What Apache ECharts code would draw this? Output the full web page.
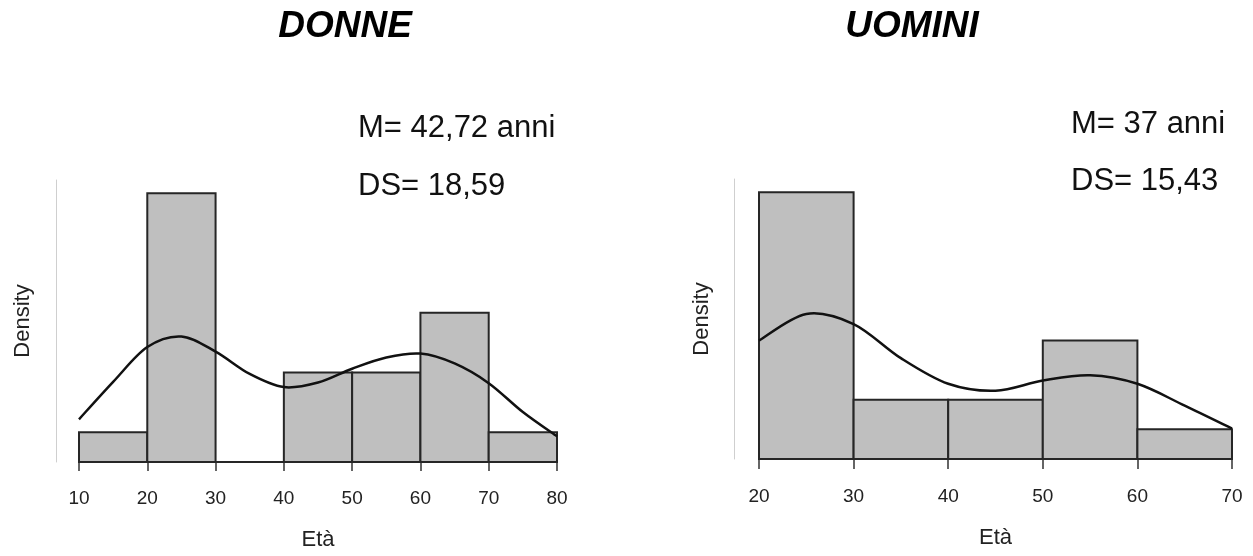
<!DOCTYPE html>
<title>eta</title>
<style>
body {
    margin: 0;
}
#echart {
    height: 556px;
    width: 1253px;
}
</style>
<div id='echart'></div>
<script src='https://cdn.jsdelivr.net/npm/echarts@6.0.0/dist/echarts.min.js'></script>
<script>
// histogram bins (years) and counts
let donne_bins = [[10, 20], [20, 30], [30, 40], [40, 50], [50, 60], [60, 70], [70, 80]]
let donne_counts = [1, 9, 0, 3, 3, 5, 1]
let uomini_bins = [[20, 30], [30, 40], [40, 50], [50, 60], [60, 70]]
let uomini_counts = [9, 2, 2, 4, 1]
// density curves, [eta, density]
let donne_curve = [[10, 0.0065], [15, 0.0122], [20, 0.0175], [25, 0.0191], [30, 0.0168], [35, 0.0134], [40, 0.0114],
    [45, 0.0121], [50, 0.0142], [55, 0.0159], [60, 0.0165], [65, 0.0150], [70, 0.0120], [75, 0.0076], [80, 0.0039]]
let uomini_curve = [[20, 0.0222], [25, 0.0272], [30, 0.0253], [35, 0.0189], [40, 0.0141], [45, 0.0128], [50, 0.0147],
    [55, 0.0157], [60, 0.0141], [65, 0.0100], [70, 0.0057]]
let titles = ['DONNE', 'UOMINI']
let stats = [['M= 42,72 anni', 'DS= 18,59'], ['M= 37 anni', 'DS= 15,43']]

let FONT = '"Liberation Sans", Arial, sans-serif'
let echart = echarts.init(document.querySelector('#echart'))

function density(bins, counts) {
    let n = counts.reduce((a, b) => a + b, 0)
    return bins.map((b, i) => [b[0], b[1], counts[i] / (n * (b[1] - b[0]))])
}

function render_bar(params, api) {
    let p0 = api.coord([api.value(0), 0])
    let p1 = api.coord([api.value(1), api.value(2)])
    return {
        type: 'rect',
        shape: {x: p0[0], y: p1[1], width: p1[0] - p0[0], height: p0[1] - p1[1]},
        style: {fill: '#bfbfbf', stroke: '#262626', lineWidth: 2},
    }
}

// catmull-rom curve through the read points, drawn once as a path
function render_curve(points) {
    return function (params, api) {
        if (params.dataIndex !== 0) return null
        let p = points.map(d => api.coord(d))
        let d = `M${p[0][0]},${p[0][1]}`
        for (let i = 0; i < p.length - 1; i++) {
            let a = p[Math.max(i - 1, 0)], b = p[i], c = p[i + 1], e = p[Math.min(i + 2, p.length - 1)]
            let c1 = [b[0] + (c[0] - a[0]) / 6, b[1] + (c[1] - a[1]) / 6]
            let c2 = [c[0] - (e[0] - b[0]) / 6, c[1] - (e[1] - b[1]) / 6]
            d += ` C${c1[0]},${c1[1]} ${c2[0]},${c2[1]} ${c[0]},${c[1]}`
        }
        return {type: 'path', shape: {pathData: d}, style: {fill: 'none', stroke: '#111', lineWidth: 2.5}}
    }
}

let x_axis = {
    type: 'value', interval: 10,
    name: 'Età', nameLocation: 'middle',
    nameTextStyle: {fontFamily: FONT, fontSize: 22, color: '#222'},
    axisLine: {show: true, lineStyle: {color: '#c4c4c4', width: 1}},
    axisTick: {show: true, lineStyle: {color: '#333', width: 1.5}},
    axisLabel: {fontFamily: FONT, fontSize: 19, color: '#222'},
    splitLine: {show: false},
}
let y_axis = {
    type: 'value', min: 0,
    name: 'Density', nameLocation: 'middle', nameGap: 22, nameRotate: 90,
    nameTextStyle: {fontFamily: FONT, fontSize: 22, color: '#222'},
    axisLine: {show: true, lineStyle: {color: '#cfcfcf', width: 1}},
    axisTick: {show: false}, axisLabel: {show: false}, splitLine: {show: false},
}

let option = {
    animation: false,
    grid: [
        {left: 79, width: 478, top: 180, height: 282},
        {left: 759, width: 473, top: 179, height: 280},
    ],
    xAxis: [
        {...x_axis, gridIndex: 0, min: 10, max: 80, offset: 15, nameGap: 52,
            axisTick: {...x_axis.axisTick, length: 9}, axisLabel: {...x_axis.axisLabel, margin: 12}},
        {...x_axis, gridIndex: 1, min: 20, max: 70, offset: 13, nameGap: 55,
            axisTick: {...x_axis.axisTick, length: 10}, axisLabel: {...x_axis.axisLabel, margin: 15}},
    ],
    yAxis: [
        {...y_axis, gridIndex: 0, max: 0.04293, offset: 23},
        {...y_axis, gridIndex: 1, max: 0.05249, offset: 24.5},
    ],
    series: [
        {type: 'custom', xAxisIndex: 0, yAxisIndex: 0, renderItem: render_bar, encode: {x: [0, 1], y: 2},
            data: density(donne_bins, donne_counts)},
        {type: 'custom', xAxisIndex: 0, yAxisIndex: 0, renderItem: render_curve(donne_curve), encode: {x: 0, y: 1},
            data: donne_curve, silent: true, z: 5},
        {type: 'custom', xAxisIndex: 1, yAxisIndex: 1, renderItem: render_bar, encode: {x: [0, 1], y: 2},
            data: density(uomini_bins, uomini_counts)},
        {type: 'custom', xAxisIndex: 1, yAxisIndex: 1, renderItem: render_curve(uomini_curve), encode: {x: 0, y: 1},
            data: uomini_curve, silent: true, z: 5},
    ],
    graphic: [
        {type: 'text', x: 345, y: 27, style: {text: titles[0], font: `italic bold 37px ${FONT}`, fill: '#000', align: 'center', verticalAlign: 'middle'}},
        {type: 'text', x: 912, y: 27, style: {text: titles[1], font: `italic bold 37px ${FONT}`, fill: '#000', align: 'center', verticalAlign: 'middle'}},
        {type: 'text', x: 358, y: 128, style: {text: stats[0][0], font: `31px ${FONT}`, fill: '#111', verticalAlign: 'middle'}},
        {type: 'text', x: 358, y: 186, style: {text: stats[0][1], font: `31px ${FONT}`, fill: '#111', verticalAlign: 'middle'}},
        {type: 'text', x: 1071, y: 124, style: {text: stats[1][0], font: `31px ${FONT}`, fill: '#111', verticalAlign: 'middle'}},
        {type: 'text', x: 1071, y: 181, style: {text: stats[1][1], font: `31px ${FONT}`, fill: '#111', verticalAlign: 'middle'}},
    ],
}
echart.setOption(option)
</script>
